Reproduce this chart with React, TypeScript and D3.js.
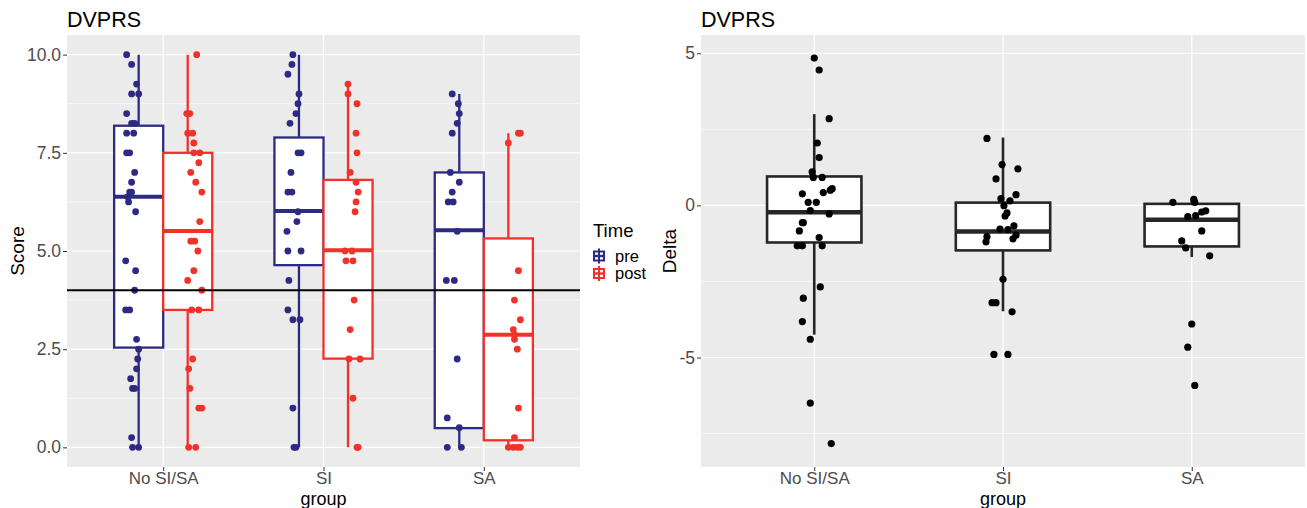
import React, { useEffect, useRef } from 'react';
import * as d3 from 'd3';

const groups = ['No SI/SA', 'SI', 'SA'];
const times = ['pre', 'post'];
const timeColors = ['#2d2a84', '#f0322a'];
const scoreTicks = [0, 2.5, 5, 7.5, 10];
const scoreMinor = [1.25, 3.75, 6.25, 8.75];
const deltaTicks = [-5, 0, 5];
const deltaMinor = [-7.5, -2.5, 2.5];
const threshold = 4;

// box stats: [lower whisker, q1, median, q3, upper whisker]
const scorePreBoxes = [
  [0, 2.54, 6.38, 8.19, 10],
  [0, 4.64, 6.02, 7.89, 10],
  [0, 0.49, 5.53, 7.0, 9.0],
];
const scorePostBoxes = [
  [0, 3.5, 5.51, 7.5, 10],
  [0, 2.26, 5.02, 6.81, 9.27],
  [0, 0.18, 2.87, 5.32, 8.0],
];
const deltaBoxes = [
  [-4.25, -1.22, -0.23, 0.95, 3.0],
  [-3.48, -1.48, -0.86, 0.09, 2.23],
  [-1.7, -1.35, -0.47, 0.05, 0.2],
];

// jittered points: [value, horizontal jitter in category widths]
const scorePrePoints = [
  [[10, -0.075], [9.75, -0.044], [9.25, -0.013], [9, -0.044], [9, 0], [8.5, -0.075], [8.25, -0.044], [8.25, -0.025],
   [8, -0.075], [8, -0.031], [7.5, -0.075], [7.5, -0.056], [7, -0.025], [6.75, -0.044], [6.5, -0.056], [6.5, -0.044],
   [6.38, -0.069], [6.25, -0.063], [6, -0.019], [4.75, -0.081], [4.5, -0.019], [4, -0.025], [3.5, -0.081], [3.5, -0.056],
   [2.75, -0.013], [2.5, 0], [2.25, -0.006], [2, -0.013], [1.75, -0.05], [1.5, -0.038], [1.5, -0.025], [0.25, -0.044],
   [0, -0.038], [0, 0]],
  [[10, -0.038], [9.75, -0.044], [9.5, -0.069], [9, 0], [8.75, -0.006], [8.5, -0.019], [8.25, -0.056], [7.5, -0.006],
   [7.5, 0.013], [7, -0.05], [6.5, -0.069], [6.5, -0.044], [6, -0.006], [5.75, -0.013], [5.5, -0.075], [5, -0.069],
   [5, 0.013], [4.25, -0.063], [3.5, -0.069], [3.25, -0.038], [3.25, 0.006], [1, -0.038], [0, -0.031], [0, -0.019]],
  [[9, -0.044], [8.75, -0.006], [8.5, 0], [8.25, -0.013], [8, -0.044], [7, -0.056], [6.75, 0], [6.5, -0.044],
   [6.25, -0.069], [6.25, -0.038], [5.5, -0.013], [4.25, -0.081], [4.25, -0.031], [2.25, -0.013], [0.75, -0.075],
   [0.5, 0], [0, -0.075], [0, 0.013]],
];
const scorePostPoints = [
  [[10, 0.056], [8.5, -0.006], [8.5, 0.013], [8, 0], [8, 0.031], [7.75, 0.038], [7.5, 0.038], [7.5, 0.075],
   [7.25, 0.069], [7, 0.019], [6.75, 0.05], [6.5, 0.088], [5.75, 0.075], [5.25, 0.019], [5.25, 0.044], [5, 0.063],
   [4.5, 0.038], [4.25, 0], [4, 0.088], [3.5, 0.025], [3.5, 0.069], [2.25, 0.031], [2, 0.006], [1.5, 0.013],
   [1, 0.069], [1, 0.088], [0, 0.006], [0, 0.05]],
  [[9.25, 0], [9, 0], [8.75, 0.056], [8, 0.05], [7.5, 0.056], [7, 0.013], [6.75, 0.05], [6.5, 0.063], [6.25, 0.05],
   [6, 0.044], [5, -0.019], [5, 0.025], [4.75, -0.013], [4.75, 0.031], [3.75, 0.038], [3, 0.013], [2.25, 0.006],
   [2.25, 0.075], [1.25, 0.031], [0, 0.056], [0, 0.063]],
  [[8, 0.063], [8, 0.075], [7.75, 0], [4.5, 0.063], [3.75, 0.038], [3.25, 0.075], [3, 0.031], [2.87, 0.038],
   [2.75, 0.038], [2.5, 0.056], [1, 0.063], [0.25, 0.038], [0, 0], [0, 0.031], [0, 0.056], [0, 0.075]],
];
const deltaPoints = [
  [[4.84, 0], [4.45, 0.026], [2.85, 0.079], [2.05, 0.016], [1.57, 0.026], [1.1, -0.011], [0.92, -0.005], [0.92, 0.042],
   [0.55, 0.095], [0.5, 0.085], [0.42, 0.048], [0.38, -0.063], [0.1, -0.032], [0.1, 0.011], [-0.17, -0.021],
   [-0.28, 0.079], [-0.57, -0.063], [-0.57, -0.058], [-0.84, -0.079], [-1.06, 0.026], [-1.33, -0.09], [-1.33, -0.063],
   [-1.33, 0.042], [-2.68, 0.032], [-3.05, -0.058], [-3.82, -0.063], [-4.4, -0.021], [-6.5, -0.021], [-7.83, 0.09]],
  [[2.2, -0.085], [1.34, -0.005], [1.2, 0.079], [0.87, -0.037], [0.35, 0.069], [0.22, -0.011], [0.15, 0.037],
   [-0.01, 0.005], [-0.25, 0.021], [-0.35, 0.011], [-0.67, 0.058], [-0.78, -0.016], [-0.8, 0.026], [-0.98, 0.069],
   [-1.1, 0.053], [-1.03, -0.085], [-1.2, -0.09], [-2.43, 0], [-3.2, -0.058], [-3.2, -0.037], [-3.5, 0.048],
   [-4.9, -0.048], [-4.9, 0.026]],
  [[0.1, -0.1], [0.2, 0.011], [0.1, 0.016], [-0.18, 0.074], [-0.22, 0.053], [-0.34, 0.021], [-0.37, -0.021],
   [-0.84, 0.053], [-1.17, -0.053], [-1.4, -0.032], [-1.66, 0.095], [-3.9, 0], [-4.66, -0.021], [-5.92, 0.016]],
];

const font = "'Liberation Sans', Arial, Helvetica, sans-serif";

//Draws one boxplot glyph
function drawBox(g, cx, w, s, y, color, lw, medW) {
  g.append('line')
    .attr('x1', cx).attr('x2', cx)
    .attr('y1', y(s[4])).attr('y2', y(s[0]))
    .attr('stroke', color).attr('stroke-width', lw)
  g.append('rect')
    .attr('x', cx - w / 2).attr('y', y(s[3]))
    .attr('width', w).attr('height', y(s[1]) - y(s[3]))
    .attr('fill', '#fff')
    .attr('stroke', color).attr('stroke-width', lw)
  g.append('line')
    .attr('x1', cx - w / 2).attr('x2', cx + w / 2)
    .attr('y1', y(s[2])).attr('y2', y(s[2]))
    .attr('stroke', color).attr('stroke-width', medW)
}

//Panel background, grid, axes, titles
function drawFrame(svg, box, x, y, ticks, minor, fmt, title, yLabel, yLabelX) {
  svg.append('rect')
    .attr('x', box.left).attr('y', box.top)
    .attr('width', box.right - box.left).attr('height', box.bottom - box.top)
    .attr('fill', '#ebebeb')
  svg.selectAll(null).data(minor).enter().append('line')
    .attr('x1', box.left).attr('x2', box.right)
    .attr('y1', d => y(d)).attr('y2', d => y(d))
    .attr('stroke', '#fff').attr('stroke-width', 0.6)
  svg.selectAll(null).data(ticks).enter().append('line')
    .attr('x1', box.left).attr('x2', box.right)
    .attr('y1', d => y(d)).attr('y2', d => y(d))
    .attr('stroke', '#fff').attr('stroke-width', 1.2)
  svg.selectAll(null).data(groups).enter().append('line')
    .attr('x1', d => x(d)).attr('x2', d => x(d))
    .attr('y1', box.top).attr('y2', box.bottom)
    .attr('stroke', '#fff').attr('stroke-width', 1.2)

  const yAxis = svg.append('g')
    .attr('transform', 'translate(' + box.left + ',0)')
    .call(d3.axisLeft(y).tickValues(ticks).tickFormat(fmt).tickSize(4).tickPadding(2))
  const xAxis = svg.append('g')
    .attr('transform', 'translate(0,' + box.bottom + ')')
    .call(d3.axisBottom(x).tickSize(4).tickPadding(1))
  for (const a of [yAxis, xAxis]) {
    a.select('.domain').remove()
    a.selectAll('line').attr('stroke', '#333').attr('stroke-width', 1)
    a.selectAll('text').attr('fill', '#4d4d4d').style('font-family', font).style('font-size', '17.5px')
  }
  xAxis.selectAll('text').style('font-size', '17px')

  svg.append('text')
    .attr('x', box.left).attr('y', 27)
    .style('font-family', font).style('font-size', '21.5px')
    .text(title)
  svg.append('text')
    .attr('transform', 'translate(' + yLabelX + ',' + (box.top + box.bottom) / 2 + ') rotate(-90)')
    .attr('text-anchor', 'middle')
    .style('font-family', font).style('font-size', '19px')
    .text(yLabel)
  svg.append('text')
    .attr('x', (box.left + box.right) / 2).attr('y', 504.5)
    .attr('text-anchor', 'middle')
    .style('font-family', font).style('font-size', '18px')
    .text('group')
}

export default function App() {
  const ref = useRef(null);

  useEffect(() => {
    const svg = d3.select(ref.current);
    svg.selectAll('*').remove();

    //Left panel: Score by group and time
    const L = { left: 67, right: 580, top: 35, bottom: 467 };
    const x1 = d3.scalePoint().domain(groups).range([L.left, L.right]).padding(0.6);
    const y1 = d3.scaleLinear().domain([-0.5, 10.5]).range([L.bottom, L.top]);
    drawFrame(svg, L, x1, y1, scoreTicks, scoreMinor, d3.format('.1f'), 'DVPRS', 'Score', 24);

    const step1 = x1.step();
    const dodge = [-0.153, 0.153];
    const boxW1 = 0.306 * step1;
    const boxSets = [scorePreBoxes, scorePostBoxes];
    const pointSets = [scorePrePoints, scorePostPoints];
    const g1 = svg.append('g');
    times.forEach((t, ti) => {
      groups.forEach((grp, gi) => {
        drawBox(g1, x1(grp) + dodge[ti] * step1, boxW1, boxSets[ti][gi], y1, timeColors[ti], 2.3, 4);
      });
    });
    times.forEach((t, ti) => {
      groups.forEach((grp, gi) => {
        g1.selectAll(null).data(pointSets[ti][gi]).enter().append('circle')
          .attr('cx', d => x1(grp) + (dodge[ti] + d[1]) * step1)
          .attr('cy', d => y1(d[0]))
          .attr('r', 3.4)
          .attr('fill', timeColors[ti]);
      });
    });
    svg.append('line')
      .attr('x1', L.left).attr('x2', L.right)
      .attr('y1', y1(threshold)).attr('y2', y1(threshold))
      .attr('stroke', '#000').attr('stroke-width', 2.2);

    //Legend
    const legend = svg.append('g').attr('transform', 'translate(593,0)');
    legend.append('text')
      .attr('x', 0).attr('y', 237)
      .style('font-family', font).style('font-size', '18.5px')
      .text('Time');
    const keys = legend.selectAll('.key').data(times).enter().append('g')
      .attr('class', 'key')
      .attr('transform', (d, i) => 'translate(6,' + (256 + i * 17.5) + ')');
    keys.append('rect')
      .attr('x', -5).attr('y', -4.5).attr('width', 10).attr('height', 9)
      .attr('fill', '#fff')
      .attr('stroke', (d, i) => timeColors[i]).attr('stroke-width', 2);
    keys.append('line')
      .attr('x1', 0).attr('x2', 0).attr('y1', -7.5).attr('y2', 7.5)
      .attr('stroke', (d, i) => timeColors[i]).attr('stroke-width', 2);
    keys.append('line')
      .attr('x1', -5).attr('x2', 5).attr('y1', 0).attr('y2', 0)
      .attr('stroke', (d, i) => timeColors[i]).attr('stroke-width', 2.4);
    keys.append('text')
      .attr('x', 16).attr('y', 5.5)
      .style('font-family', font).style('font-size', '16.5px')
      .text(d => d);

    //Right panel: Delta by group
    const R = { left: 701, right: 1305, top: 35, bottom: 467 };
    const x2 = d3.scalePoint().domain(groups).range([R.left, R.right]).padding(0.6);
    const y2 = d3.scaleLinear().domain([-8.6, 5.6]).range([R.bottom, R.top]);
    drawFrame(svg, R, x2, y2, deltaTicks, deltaMinor, d => String(d), 'DVPRS', 'Delta', 676);

    const step2 = x2.step();
    const g2 = svg.append('g');
    groups.forEach((grp, gi) => {
      drawBox(g2, x2(grp), 0.5 * step2, deltaBoxes[gi], y2, '#262626', 2.6, 4.5);
    });
    groups.forEach((grp, gi) => {
      g2.selectAll(null).data(deltaPoints[gi]).enter().append('circle')
        .attr('cx', d => x2(grp) + d[1] * step2)
        .attr('cy', d => y2(d[0]))
        .attr('r', 3.6)
        .attr('fill', '#000');
    });
  }, []);

  return (
    <svg ref={ref} width={1307} height={508}
      style={{ position: 'absolute', left: 0, top: 0, background: '#fff' }} />
  );
}
